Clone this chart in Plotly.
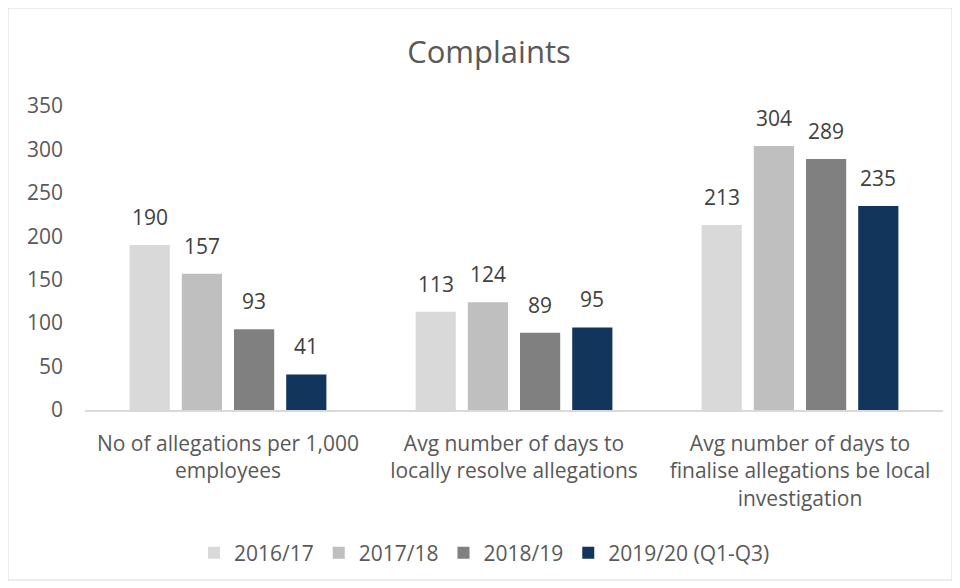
import plotly.graph_objects as go

categories = [
    "No of allegations per 1,000<br>employees",
    "Avg number of days to<br>locally resolve allegations",
    "Avg number of days to<br>finalise allegations be local<br>investigation",
]
series_names = ["2016/17", "2017/18", "2018/19", "2019/20 (Q1-Q3)"]
values_2016 = [190, 113, 213]
values_2017 = [157, 124, 304]
values_2018 = [93, 89, 289]
values_2019 = [41, 95, 235]
colors = ["#D9D9D9", "#BFBFBF", "#808080", "#12355B"]

FONT = "Open Sans, Liberation Sans, sans-serif"
W, H = 960, 588
# page body has an 8px margin, so shift the figure up/left
L, R, T, B = 77, 25, 98, 186
PW, PH = W - L - R, H - T - B
SLOT = 52  # px per bar within a group

fig = go.Figure()
all_values = [values_2016, values_2017, values_2018, values_2019]
for i, (name, vals, col) in enumerate(zip(series_names, all_values, colors)):
    fig.add_trace(go.Bar(
        x=categories,
        y=vals,
        name=name,
        marker=dict(color=col, line=dict(width=0)),
    ))
    # data labels, lifted a bit above the bars like the original
    for cat, v in zip(categories, vals):
        fig.add_annotation(
            x=cat, y=v, text=str(v), showarrow=False,
            xanchor="center", yanchor="bottom",
            xshift=(i - 1.5) * SLOT, yshift=12,
            font=dict(size=21, color="#404040", family=FONT),
        )

# chart border
fig.add_shape(
    type="rect", xref="paper", yref="paper",
    x0=(0 - L) / PW, x1=(944 - L) / PW,
    y0=(H - B - 572) / PH, y1=(H - B - 0) / PH,
    line=dict(color="#D9D9D9", width=1),
)

fig.update_layout(
    width=W, height=H,
    margin=dict(l=L, r=R, t=T, b=B),
    title=dict(text="Complaints", x=0.501, xanchor="center", y=0.925,
               yanchor="middle", font=dict(size=31, color="#595959", family=FONT)),
    barmode="group",
    bargap=0.27,
    bargroupgap=0.23,
    plot_bgcolor="white",
    paper_bgcolor="white",
    font=dict(family=FONT, color="#595959"),
    showlegend=True,
    legend=dict(orientation="h", x=(186 - L) / PW, xanchor="left",
                y=(H - B - 545) / PH, yanchor="middle",
                font=dict(size=21, color="#595959"),
                itemwidth=30, traceorder="normal"),
)
fig.update_yaxes(range=[0, 350], dtick=50, showgrid=False, zeroline=False,
                 showline=False, ticks="", tickfont=dict(size=21, color="#595959"),
                 ticklabelstandoff=21)
fig.update_xaxes(showline=True, linecolor="#D9D9D9", linewidth=1.5, ticks="",
                 tickfont=dict(size=21, color="#595959"), ticklabelstandoff=14)

fig.write_html("out.html")
